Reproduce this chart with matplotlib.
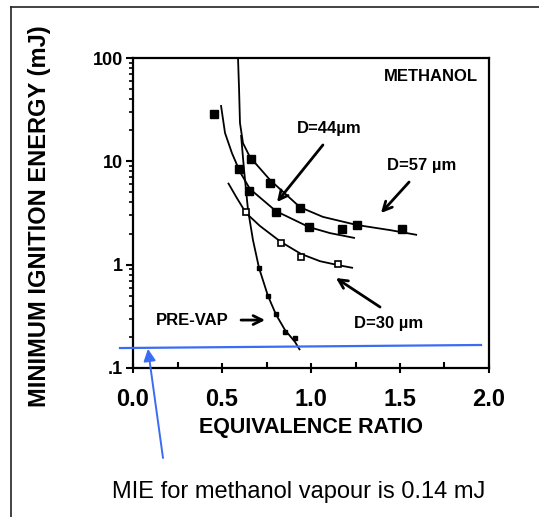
import matplotlib
matplotlib.use('Agg')
import matplotlib.pyplot as plt
from matplotlib.lines import Line2D
from matplotlib.ticker import FixedLocator, LogLocator, NullFormatter

plt.rcParams['font.family'] = ['Liberation Sans', 'DejaVu Sans']

# measured points (equivalence ratio, MIE in mJ)
d57_phi = [0.663, 0.770, 0.938, 1.258, 1.511]
d57_mie = [10.5, 6.2, 3.5, 2.4, 2.2]

d44_phi = [0.455, 0.596, 0.652, 0.803, 0.989, 1.174]
d44_mie = [28.7, 8.4, 5.2, 3.2, 2.3, 2.2]

d30_phi = [0.635, 0.831, 0.944, 1.152]
d30_mie = [3.2, 1.62, 1.19, 1.01]

prevap_phi = [0.708, 0.758, 0.803, 0.854, 0.910]
prevap_mie = [0.93, 0.50, 0.33, 0.223, 0.195]

# hand-drawn fit curves
fit57_phi = [0.590, 0.596, 0.601, 0.618, 0.657, 0.770, 0.938, 1.067, 1.258, 1.444, 1.596]
fit57_mie = [100, 49, 23.5, 15, 11, 6.6, 3.6, 2.9, 2.42, 2.16, 1.94]

fit44_phi = [0.494, 0.517, 0.556, 0.601, 0.657, 0.803, 0.989, 1.107, 1.247]
fit44_mie = [35, 18.8, 12, 7.9, 5.4, 3.3, 2.31, 2.02, 1.81]

fit30_phi = [0.534, 0.584, 0.635, 0.713, 0.831, 0.944, 1.051, 1.152, 1.236]
fit30_mie = [6.2, 4.4, 3.16, 2.37, 1.66, 1.27, 1.08, 0.99, 0.93]

fitpv_phi = [0.607, 0.624, 0.646, 0.674, 0.708, 0.758, 0.803, 0.854, 0.910, 0.938]
fitpv_mie = [18, 8.2, 3.4, 1.73, 0.93, 0.50, 0.33, 0.233, 0.179, 0.149]

# vapour MIE guide line
vap_phi = [-0.073, 1.955]
vap_mie = [0.156, 0.167]

x_ticks = [0.0, 0.5, 1.0, 1.5, 2.0]
x_ticklabels = ['0.0', '0.5', '1.0', '1.5', '2.0']
y_ticks = [0.1, 1, 10, 100]
y_ticklabels = ['.1', '1', '10', '100']

W, H = 539, 517
fig = plt.figure(figsize=(W / 100, H / 100), dpi=100)
fig.patch.set_facecolor('white')
ax = fig.add_axes([133 / W, 1 - 368 / H, 356 / W, 310 / H])

ax.set_yscale('log')
ax.set_xlim(0, 2.0)
ax.set_ylim(0.1, 100)

# fit curves
for px, py in [(fit57_phi, fit57_mie), (fit44_phi, fit44_mie),
               (fit30_phi, fit30_mie), (fitpv_phi, fitpv_mie)]:
    ax.plot(px, py, color='black', lw=1.3, solid_capstyle='butt')

# markers
ax.plot(d57_phi, d57_mie, 's', ms=5.5, color='black', zorder=4)
ax.plot(d44_phi, d44_mie, 's', ms=5.5, color='black', zorder=4)
ax.plot(d30_phi, d30_mie, 's', ms=4.5, mfc='white', mec='black', mew=1.2, zorder=4)
ax.plot(prevap_phi, prevap_mie, 's', ms=3, color='black', zorder=4)

# blue guide line
ax.plot(vap_phi, vap_mie, color='#3a6cf4', lw=1.6, clip_on=False, zorder=5)

# ticks
ax.xaxis.set_major_locator(FixedLocator(x_ticks))
ax.set_xticklabels(x_ticklabels)
ax.xaxis.set_minor_locator(FixedLocator([0.25, 0.75, 1.25, 1.75]))
ax.yaxis.set_major_locator(FixedLocator(y_ticks))
ax.set_yticklabels(y_ticklabels)
ax.yaxis.set_minor_locator(LogLocator(base=10, subs=range(2, 10)))
ax.yaxis.set_minor_formatter(NullFormatter())

ax.tick_params(axis='x', which='major', direction='inout', length=7, width=1.5,
               pad=11, labelsize=17)
ax.tick_params(axis='x', which='minor', direction='in', length=4, width=1.5)
ax.tick_params(axis='y', which='major', direction='out', length=5, width=1.5,
               pad=2, labelsize=13)
ax.tick_params(axis='y', which='minor', direction='out', length=3, width=1.2)
for lbl in ax.get_xticklabels() + ax.get_yticklabels():
    lbl.set_fontweight('bold')

for spine in ax.spines.values():
    spine.set_linewidth(1.6)
    spine.set_edgecolor('black')

ax.set_xlabel('EQUIVALENCE RATIO', fontsize=15.5, fontweight='bold', labelpad=4)
ax.set_ylabel('MINIMUM IGNITION ENERGY (mJ)', fontsize=17, fontweight='bold')
ax.yaxis.set_label_coords(-82 / 356, 0.49)

# annotations
ax.text(0.97, 0.94, 'METHANOL', transform=ax.transAxes, ha='right', va='center',
        fontsize=12, fontweight='bold')
ax.text(1.10, 21, 'D=44\u00b5m', ha='center', va='center', fontsize=12, fontweight='bold')
ax.text(1.624, 9.2, 'D=57 \u00b5m', ha='center', va='center', fontsize=12, fontweight='bold')
ax.text(1.433, 0.272, 'D=30 \u00b5m', ha='center', va='center', fontsize=12, fontweight='bold')
ax.text(0.331, 0.291, 'PRE-VAP', ha='center', va='center', fontsize=12, fontweight='bold')

arrow = dict(arrowstyle='->', color='black', lw=2.0, mutation_scale=16,
             shrinkA=0, shrinkB=0)
ax.annotate('', xy=(0.809, 4.04), xytext=(1.067, 14.4), arrowprops=arrow)
ax.annotate('', xy=(1.393, 3.16), xytext=(1.551, 6.3), arrowprops=arrow)
ax.annotate('', xy=(1.140, 0.743), xytext=(1.388, 0.389), arrowprops=arrow)
ax.annotate('', xy=(0.742, 0.291), xytext=(0.607, 0.291), arrowprops=arrow)

# blue pointer from caption to the line
ax.annotate('', xy=(0.084, 0.153), xycoords='data',
            xytext=(163 / W, 1 - 458 / H), textcoords='figure fraction',
            arrowprops=dict(arrowstyle='-|>', color='#3a6cf4', lw=1.4,
                            mutation_scale=18, shrinkA=0, shrinkB=0))

fig.text(299 / W, 1 - 492 / H, 'MIE for methanol vapour is 0.14 mJ',
         ha='center', va='center', fontsize=17, color='black')

# page frame (left and top edges only are visible)
fig.add_artist(Line2D([11 / W, 11 / W], [0, 1 - 7 / H], transform=fig.transFigure,
                      color='#222222', lw=1.2))
fig.add_artist(Line2D([11 / W, 1], [1 - 7 / H, 1 - 7 / H], transform=fig.transFigure,
                      color='#222222', lw=1.2))

fig.savefig('out.png', dpi=100, facecolor='white')
